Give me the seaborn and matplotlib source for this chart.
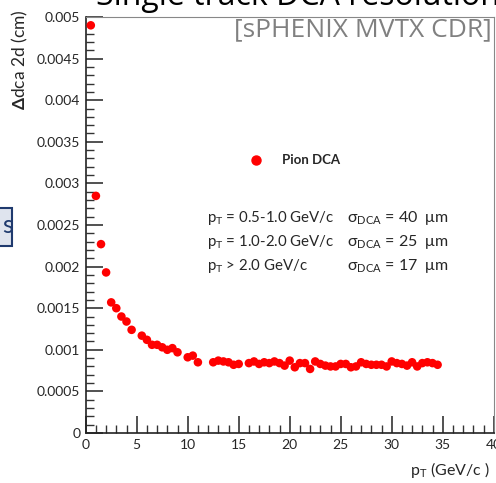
import matplotlib
matplotlib.use("Agg")
import matplotlib.pyplot as plt
import seaborn as sns
import pandas as pd
from matplotlib.ticker import MultipleLocator, FuncFormatter
from matplotlib.patches import Rectangle

# ---- data ----
pt = [0.5, 1.0, 1.5, 2.0, 2.5, 3.0, 3.5, 4.0, 4.5, 5.5, 6.0, 6.5, 7.0, 7.5, 8.0, 8.5, 9.0,
      10.0, 10.5, 11.0, 12.5, 13.0, 13.5, 14.0, 14.5, 15.0,
      16.0, 16.5, 17.0, 17.5, 18.0, 18.5, 19.0, 19.5, 20.0, 20.5, 21.0, 21.5, 22.0, 22.5,
      23.0, 23.5, 24.0, 24.5, 25.0, 25.5, 26.0, 26.5, 27.0, 27.5, 28.0, 28.5, 29.0, 29.5,
      30.0, 30.5, 31.0, 31.5, 32.0, 32.5, 33.0, 33.5, 34.0, 34.5]
dca = [0.00490, 0.00285, 0.00227, 0.00193, 0.00157, 0.00150, 0.00140, 0.00134, 0.00124,
       0.00117, 0.00112, 0.00106, 0.00106, 0.00103, 0.00100, 0.00102, 0.00097,
       0.00091, 0.00093, 0.00085, 0.00085, 0.00087, 0.00086, 0.00085, 0.00082, 0.00083,
       0.00084, 0.00086, 0.00083, 0.00085, 0.00084, 0.00086, 0.00084, 0.00081, 0.00087,
       0.00079, 0.00084, 0.00084, 0.00077, 0.00086, 0.00083, 0.00081, 0.00080, 0.00080,
       0.00083, 0.00083, 0.00079, 0.00080, 0.00085, 0.00083, 0.00082, 0.00082, 0.00082,
       0.00080, 0.00086, 0.00084, 0.00083, 0.00081, 0.00085, 0.00080, 0.00084, 0.00085,
       0.00084, 0.00082]
x_ticks = [0, 5, 10, 15, 20, 25, 30, 35, 40]
y_ticks = [0, 0.0005, 0.001, 0.0015, 0.002, 0.0025, 0.003, 0.0035, 0.004, 0.0045, 0.005]
ranges = ["0.5-1.0", "1.0-2.0"]
sigmas = [40, 25, 17]

df = pd.DataFrame({"pt": pt, "dca": dca})

sns.set_style("white")
plt.rcParams['font.family'] = ['Lato', 'DejaVu Sans']
plt.rcParams['mathtext.fontset'] = 'custom'
plt.rcParams['mathtext.rm'] = 'Lato'
plt.rcParams['mathtext.it'] = 'Lato:italic'
plt.rcParams['mathtext.bf'] = 'Lato:bold'

W, H = 496, 483
fig = plt.figure(figsize=(W / 100, H / 100), dpi=100)

def fx(px):
    return px / W

def fy(py):
    return 1 - py / H

ax = fig.add_axes([fx(85.7), fy(433), (493.7 - 85.7) / W, (433 - 17) / H])
sns.scatterplot(data=df, x="pt", y="dca", ax=ax, color="#ff0000", s=38,
                edgecolor="none", legend=False, zorder=3, clip_on=False)
ax.set_xlim(0, 40)
ax.set_ylim(0, 0.005)
ax.set_xticks(x_ticks)
ax.set_yticks(y_ticks)
ax.xaxis.set_minor_locator(MultipleLocator(1))
ax.yaxis.set_minor_locator(MultipleLocator(0.0001))
ax.yaxis.set_major_formatter(FuncFormatter(lambda v, p: "%g" % v))
ax.xaxis.set_major_formatter(FuncFormatter(lambda v, p: "%g" % v))
ax.tick_params(which="major", direction="in", length=12, width=1.2, color="#333333",
               labelsize=10, pad=4)
ax.tick_params(which="minor", direction="in", length=6, width=1.0, color="#333333")
ax.tick_params(axis="x", which="both", bottom=True, top=False)
ax.tick_params(axis="y", which="both", left=True, right=False)
ax.set_xlabel("")
ax.set_ylabel("")
for s in ["top", "right"]:
    ax.spines[s].set_color("#888888")
    ax.spines[s].set_linewidth(0.8)
for s in ["left", "bottom"]:
    ax.spines[s].set_color("#222222")
    ax.spines[s].set_linewidth(1.2)

# title (clipped at top of image)
fig.text(fx(96), fy(5), "Single track DCA resolution", fontsize=23, color="black",
         ha="left", va="baseline", family=["Open Sans", "DejaVu Sans"])
# watermark
fig.text(fx(492), fy(30), "[sPHENIX MVTX CDR]", fontsize=19, color="#808080",
         ha="right", va="center", family=["Open Sans", "DejaVu Sans"])
# y label
fig.text(fx(20), fy(60), r"$\mathbf{\Delta}$dca 2d (cm)", rotation=90, fontsize=12.5,
         ha="center", va="center")
# x label
fig.text(fx(490), fy(470), r"p$_{\rm T}$ (GeV/c )", fontsize=11.5, ha="right", va="center")

# legend
fig.lines.append(plt.Line2D([fx(256)], [fy(160)], marker="o", markersize=6.5,
                            color="#ff0000", linestyle="none", transform=fig.transFigure))
fig.text(fx(282), fy(160), "Pion DCA", fontsize=9.5, fontweight="bold", ha="left", va="center")

# annotation
labels = [r"p$_{\rm T}$ = " + ranges[0] + " GeV/c",
          r"p$_{\rm T}$ = " + ranges[1] + " GeV/c",
          r"p$_{\rm T}$ > 2.0 GeV/c"]
ys = [218, 242, 266]
for lab, sg, yy in zip(labels, sigmas, ys):
    fig.text(fx(207), fy(yy), lab, fontsize=10.8, ha="left", va="center")
    fig.text(fx(347), fy(yy), "\u03c3" + r"$_{\rm DCA}$" + " = %d  \u03bcm" % sg,
             fontsize=11.5, ha="left", va="center")

# clipped slide box on left
fig.patches.append(Rectangle((fx(-8), fy(246)), fx(20), (246 - 208) / H,
                             transform=fig.transFigure, facecolor="#dfe4ee",
                             edgecolor="#1f3a6e", linewidth=1.5, zorder=5))
fig.text(fx(2), fy(226), "s", fontsize=18, color="#1f3a6e", ha="left", va="center",
         zorder=6)

fig.savefig("out.png", dpi=100)
